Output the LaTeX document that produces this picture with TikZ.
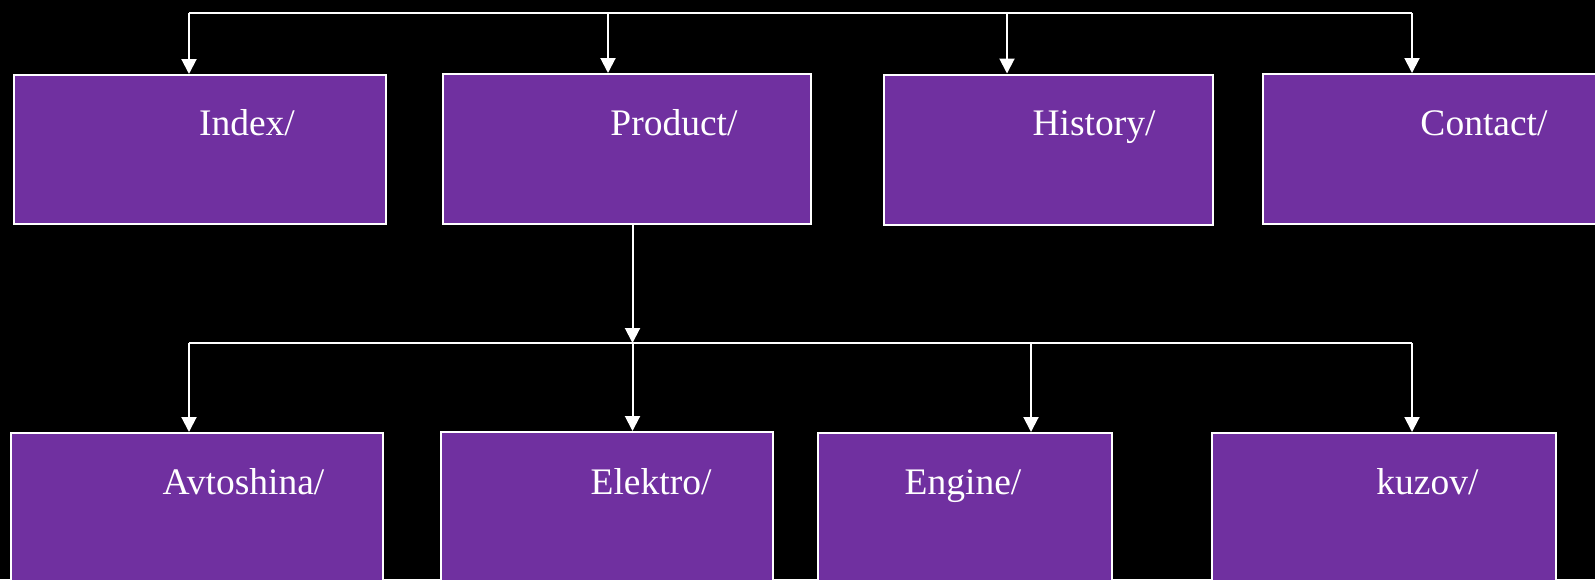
\documentclass[tikz,border=0pt]{standalone}
\usepackage{fontspec}
\setmainfont{Liberation Serif}
\usetikzlibrary{arrows.meta}
\definecolor{boxpurple}{HTML}{7030A0}

\begin{document}
\begin{tikzpicture}[x=0.5pt,y=-0.5pt,
    pagebox/.style={draw=white, line width=1pt, fill=boxpurple, inner sep=0pt},
    pagename/.style={anchor=base, text=white, inner sep=0pt, font=\fontsize{18.75pt}{22pt}\selectfont},
    link/.style={draw=white, line width=1pt},
    arr/.style={link, -{Triangle[width=7.5pt,length=7.5pt]}}]
       \fill[black] (0,0) rectangle (1595,579);
       \useasboundingbox (0,0) rectangle (1595,579);
       \clip (0,0) rectangle (1595,579);

       % top level
       \node(I)[pagebox, minimum width=186pt, minimum height=74.5pt] at (200,149.5) {};
       \node(NI)[pagename] at (247,135) {Index/};

       \node(P)[pagebox, minimum width=184pt, minimum height=75pt] at (627,149) {};
       \node(NP)[pagename] at (674,135) {Product/};

       \node(H)[pagebox, minimum width=164.5pt, minimum height=75pt] at (1048.5,149.5) {};
       \node(NH)[pagename] at (1094,135) {History/};

       \node(C)[pagebox, minimum width=178.5pt, minimum height=75pt] at (1441.5,149) {};
       \node(NC)[pagename] at (1484,135) {Contact/};

       \coordinate(T1) at (189,13);
       \coordinate(T2) at (608,13);
       \coordinate(T3) at (1007,13);
       \coordinate(T4) at (1412,13);
       \draw[link] (T1) -- (T4);
       \draw[arr] (T1) -- (T1 |- I.north);
       \draw[arr] (T2) -- (T2 |- P.north);
       \draw[arr] (T3) -- (T3 |- H.north);
       \draw[arr] (T4) -- (T4 |- C.north);

       % product pages
       \node(A)[pagebox, minimum width=186pt, minimum height=93.5pt] at (197,526.5) {};
       \node(NA)[pagename] at (243.5,494) {Avtoshina/};

       \node(E)[pagebox, minimum width=166pt, minimum height=94pt] at (607,526) {};
       \node(NE)[pagename] at (651,494) {Elektro/};

       \node(G)[pagebox, minimum width=147pt, minimum height=93.5pt] at (965,526.5) {};
       \node(NG)[pagename] at (963,494) {Engine/};

       \node(K)[pagebox, minimum width=172pt, minimum height=93.5pt] at (1384,526.5) {};
       \node(NK)[pagename] at (1427.5,494) {kuzov/};

       \coordinate(M1) at (189,343);
       \coordinate(M2) at (632.5,343);
       \coordinate(M3) at (1031,343);
       \coordinate(M4) at (1412,343);
       \draw[arr] (M2 |- P.south) -- (M2);
       \draw[link] (M1) -- (M4);
       \draw[arr] (M1) -- (M1 |- A.north);
       \draw[arr] (M2) -- (M2 |- E.north);
       \draw[arr] (M3) -- (M3 |- G.north);
       \draw[arr] (M4) -- (M4 |- K.north);
     \end{tikzpicture}
\end{document}
